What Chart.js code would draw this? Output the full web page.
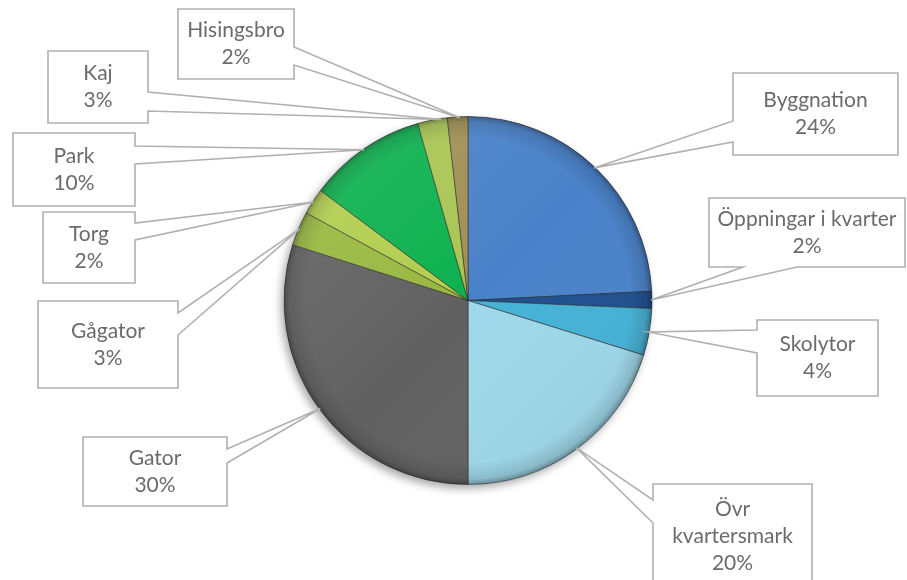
<!DOCTYPE html>
<html><head><meta charset="utf-8">
<script src="https://cdn.jsdelivr.net/npm/chart.js@4.4.1/dist/chart.umd.min.js"></script>
<style>html,body{margin:0;padding:0;background:#fff;}canvas{display:block}</style>
</head><body>
<canvas id="c" width="907" height="580"></canvas>
<script>
// ---- data ----
const categories = ["Byggnation","Öppningar i kvarter","Skolytor","Övr kvartersmark","Gator","Gågator","Torg","Park","Kaj","Hisingsbro"];
const shares = [24.2, 1.5, 4.1, 20.2, 29.9, 3.0, 2.3, 10.4, 2.6, 1.8];
const percentLabels = ["24%","2%","4%","20%","30%","3%","2%","10%","3%","2%"];
const labelLines = [["Byggnation"],["Öppningar i kvarter"],["Skolytor"],["Övr","kvartersmark"],["Gator"],["Gågator"],["Torg"],["Park"],["Kaj"],["Hisingsbro"]];
const sliceColors = ["#4a82c9","#1f4f8e","#45b2d6","#9ed8ea","#616161","#98b840","#b2cd4e","#0db14f","#a9c553","#a08f55"];

// ---- callout box layout (label placement only) ----
const callouts = [
  {x:733,y:73,w:165,h:82,side:'left',a:121,b:142,at:0.5},
  {x:709,y:198,w:196,h:69,side:'bottom',a:743,b:797,at:0.5},
  {x:757,y:320,w:121,h:76,side:'left',a:330,b:353,at:0.5},
  {x:653,y:484,w:159,h:104,side:'left',a:500,b:523,at:0.5},
  {x:83,y:437,w:144,h:69,side:'right',a:449,b:463,at:0.5},
  {x:38,y:301,w:140,h:87,side:'right',a:313,b:335,at:0.5},
  {x:43,y:212,w:92,h:71,side:'right',a:223,b:240,at:0.5},
  {x:13,y:133,w:122,h:73,side:'right',a:146,b:164,at:0.5},
  {x:48,y:51,w:100,h:72,side:'right',a:92,b:111,at:0.8},
  {x:178,y:9,w:116,h:70,side:'right',a:47,b:65,at:0.6}
];

const shadowPlugin = {
  id:'pieShadow',
  beforeDatasetsDraw(chart){
    const arc = chart.getDatasetMeta(0).data[0]; if(!arc) return;
    const ctx = chart.ctx; ctx.save();
    ctx.shadowColor='rgba(0,0,0,0.35)'; ctx.shadowBlur=9; ctx.shadowOffsetX=-3; ctx.shadowOffsetY=4;
    ctx.beginPath(); ctx.arc(arc.x,arc.y,arc.outerRadius,0,Math.PI*2); ctx.fillStyle='#888'; ctx.fill();
    ctx.restore();
  },
  afterDatasetsDraw(chart){
    const arc = chart.getDatasetMeta(0).data[0]; if(!arc) return;
    const ctx = chart.ctx, r = arc.outerRadius; ctx.save();
    ctx.beginPath(); ctx.arc(arc.x,arc.y,r,0,Math.PI*2); ctx.clip();
    let g = ctx.createRadialGradient(arc.x,arc.y,0,arc.x,arc.y,r);
    g.addColorStop(0,'rgba(0,0,0,0)'); g.addColorStop(0.88,'rgba(0,0,0,0)'); g.addColorStop(0.97,'rgba(0,0,0,0.12)'); g.addColorStop(1,'rgba(0,0,0,0.35)');
    ctx.fillStyle=g; ctx.fillRect(arc.x-r,arc.y-r,2*r,2*r);
    let l = ctx.createLinearGradient(arc.x-r,arc.y-r,arc.x+r,arc.y+r);
    l.addColorStop(0,'rgba(255,255,255,0.12)'); l.addColorStop(0.5,'rgba(255,255,255,0)'); l.addColorStop(1,'rgba(0,0,0,0.08)');
    ctx.fillStyle=l; ctx.fillRect(arc.x-r,arc.y-r,2*r,2*r);
    ctx.restore();
  }
};

const calloutPlugin = {
  id:'callouts',
  afterDatasetsDraw(chart){
    const ctx = chart.ctx, meta = chart.getDatasetMeta(0);
    meta.data.forEach((arc,i)=>{
      const c = callouts[i]; if(!c) return;
      const ang = arc.startAngle + (arc.endAngle-arc.startAngle)*c.at;
      const r = arc.outerRadius - 1;
      const tx = arc.x + Math.cos(ang)*r, ty = arc.y + Math.sin(ang)*r;
      const {x,y,w,h,side,a,b} = c;
      ctx.save();
      ctx.beginPath();
      ctx.moveTo(x,y);
      ctx.lineTo(x+w,y);
      if(side==='right'){ctx.lineTo(x+w,a);ctx.lineTo(tx,ty);ctx.lineTo(x+w,b);}
      ctx.lineTo(x+w,y+h);
      if(side==='bottom'){ctx.lineTo(b,y+h);ctx.lineTo(tx,ty);ctx.lineTo(a,y+h);}
      ctx.lineTo(x,y+h);
      if(side==='left'){ctx.lineTo(x,b);ctx.lineTo(tx,ty);ctx.lineTo(x,a);}
      ctx.closePath();
      ctx.fillStyle='#fff'; ctx.fill();
      ctx.lineWidth=1.6; ctx.strokeStyle='#b0b0b0'; ctx.lineJoin='miter'; ctx.stroke();
      const lines = labelLines[i].concat([percentLabels[i]]);
      const lh = 27, cx = x+w/2, cy = y+h/2;
      ctx.fillStyle='#6b6b6b'; ctx.font='21px Lato'; ctx.textAlign='center'; ctx.textBaseline='middle';
      lines.forEach((t,k)=>{ ctx.fillText(t, cx, cy + (k-(lines.length-1)/2)*lh); });
      ctx.restore();
    });
  }
};

new Chart(document.getElementById('c'), {
  type:'pie',
  data:{labels:categories, datasets:[{data:shares, backgroundColor:sliceColors, borderColor:'rgba(40,40,40,0.55)', borderWidth:1}]},
  options:{
    responsive:false, animation:false,
    layout:{padding:{left:100,right:71,top:116,bottom:95}},
    plugins:{legend:{display:false}, tooltip:{enabled:false}}
  },
  plugins:[shadowPlugin, calloutPlugin]
});
</script>
</body></html>
